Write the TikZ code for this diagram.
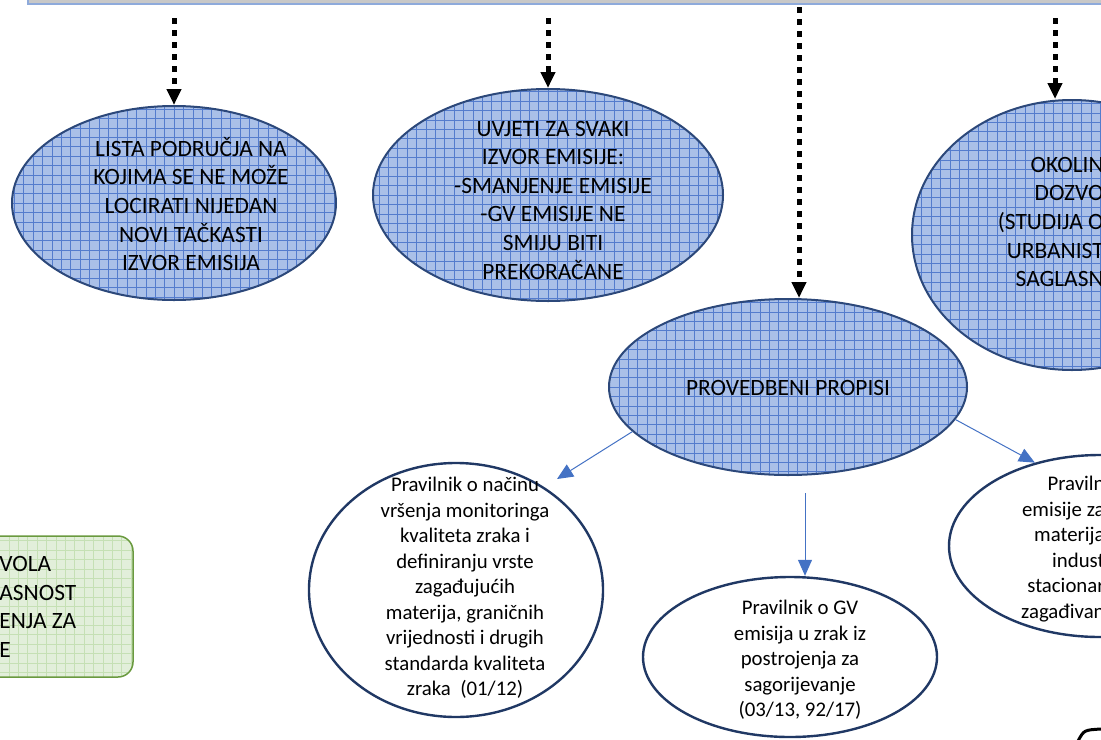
\documentclass[tikz,border=0pt]{standalone}
\usepackage{fontspec}
\setmainfont{Carlito}
\usetikzlibrary{shapes.geometric,arrows.meta}
\definecolor{ellfill}{RGB}{170,192,232}
\definecolor{ellgrid}{RGB}{84,124,205}
\definecolor{ellline}{RGB}{44,72,122}
\definecolor{navyline}{RGB}{32,56,100}
\definecolor{arrblue}{RGB}{68,114,196}
\definecolor{barfill}{RGB}{200,200,200}
\definecolor{barline}{RGB}{142,170,219}
\definecolor{greenfill}{RGB}{226,239,218}
\definecolor{greengrid}{RGB}{197,224,180}
\definecolor{greenline}{RGB}{106,154,63}

\tikzset{
  gridfill/.style 2 args={path picture={
    \fill[#1] (path picture bounding box.south west) rectangle (path picture bounding box.north east);
    \draw[#2, line width=0.3pt] (path picture bounding box.south west) grid[step=4.7pt] (path picture bounding box.north east);}},
  blueell/.style={ellipse, draw=ellline, line width=1pt, inner sep=0pt, gridfill={ellfill}{ellgrid}},
  whiteell/.style={ellipse, draw=navyline, line width=1.2pt, fill=white, inner sep=0pt},
  greenbox/.style={rectangle, rounded corners=7.5pt, draw=greenline, line width=0.75pt, inner sep=0pt, gridfill={greenfill}{greengrid}},
  bigtxt/.style={align=center, inner sep=0pt, font=\fontsize{11.7}{14.3}\selectfont},
  smalltxt/.style={align=center, inner sep=0pt, font=\fontsize{10.4}{12.75}\selectfont},
  dotarrow/.style={line width=2.5pt, dash pattern=on 3pt off 3pt, -{Triangle[length=8pt,width=7pt]}},
  thinarrow/.style={arrblue, line width=0.5pt, -{Triangle[length=8pt,width=7pt]}},
}

\begin{document}
\begin{tikzpicture}[x=0.5pt, y=-0.5pt]
\useasboundingbox (0,0) rectangle (1101,739);
\clip (0,0) rectangle (1101,739);

\draw[barline, fill=barfill, line width=0.75pt] (28,-30) rectangle (1130,4);

\node[blueell, minimum width=162pt, minimum height=97pt] (lista) at (174,203) {};
\node[bigtxt] (listatxt) at (191,204) {LISTA PODRUČJA NA\\KOJIMA SE NE MOŽE\\LOCIRATI NIJEDAN\\NOVI TAČKASTI\\IZVOR EMISIJA};

\node[blueell, minimum width=175pt, minimum height=106pt] (uvjeti) at (548,195) {};
\node[bigtxt] (uvjetitxt) at (553,200) {UVJETI ZA SVAKI\\IZVOR EMISIJE:\\-SMANJENJE EMISIJE\\-GV EMISIJE NE\\SMIJU BITI\\PREKORAČANE};

\node[blueell, minimum width=160pt, minimum height=135pt] (okolin) at (1072,235) {};
\node[bigtxt, align=right, anchor=east] (okolintxt) at (1104,222) {OKOLIN\\DOZVO\\(STUDIJA O\\URBANIST\\SAGLASN};

\node[blueell, minimum width=179pt, minimum height=88pt] (propisi) at (788,387) {};
\node[bigtxt] (propisitxt) at (788,388) {PROVEDBENI PROPISI};

\node[greenbox, minimum width=86.5pt, minimum height=70.5pt] (dozvola) at (46.5,606.5) {};
\node[bigtxt, align=left, anchor=west] (dozvolatxt) at (-1,607) {VOLA\\ASNOST\\ENJA ZA\\E};

\node[whiteell, minimum width=147pt, minimum height=127pt] (monitoring) at (456,590) {};
\node[smalltxt] (monitoringtxt) at (465,588) {Pravilnik o načinu\\vršenja monitoringa\\kvaliteta zraka i\\definiranju vrste\\zagađujućih\\materija, graničnih\\vrijednosti i drugih\\standarda kvaliteta\\zraka\ \ (01/12)};

\node[whiteell, minimum width=147pt, minimum height=80pt] (sagorijevanje) at (790,657) {};
\node[smalltxt] (sagorijevanjetxt) at (800,660) {Pravilnik o GV\\emisija u zrak iz\\postrojenja za\\sagorijevanje\\(03/13, 92/17)};

\node[whiteell, minimum width=151pt, minimum height=91pt] (industrija) at (1100,546) {};
\node[smalltxt, align=right, anchor=east] (industrijatxt) at (1105,549) {Praviln\\emisije za\\materija\\indust\\stacionar\\zagađivan};

\coordinate (listatop) at (174,18);
\coordinate (uvjetitop) at (548,18);
\coordinate (propisitop) at (799,7);
\coordinate (okolintop) at (1055,18);
\draw[dotarrow] (listatop) -- (lista.north);
\draw[dotarrow] (uvjetitop) -- (uvjeti.north);
\draw[dotarrow] (propisitop) -- (propisitop |- propisi.north);
\draw[dotarrow] (okolintop) -- (okolintop |- okolin.north);

\coordinate (monitoringtip) at (557,479);
\coordinate (sagstart) at (805,493);
\draw[thinarrow] (propisi.196) -- (monitoringtip);
\draw[thinarrow] (sagstart) -- (sagstart |- sagorijevanje.north);
\draw[thinarrow] (propisi.-11) -- (industrija.128);

\draw[line width=1.5pt] (1078,741) .. controls (1084,730) .. (1101,729);

\end{tikzpicture}
\end{document}
